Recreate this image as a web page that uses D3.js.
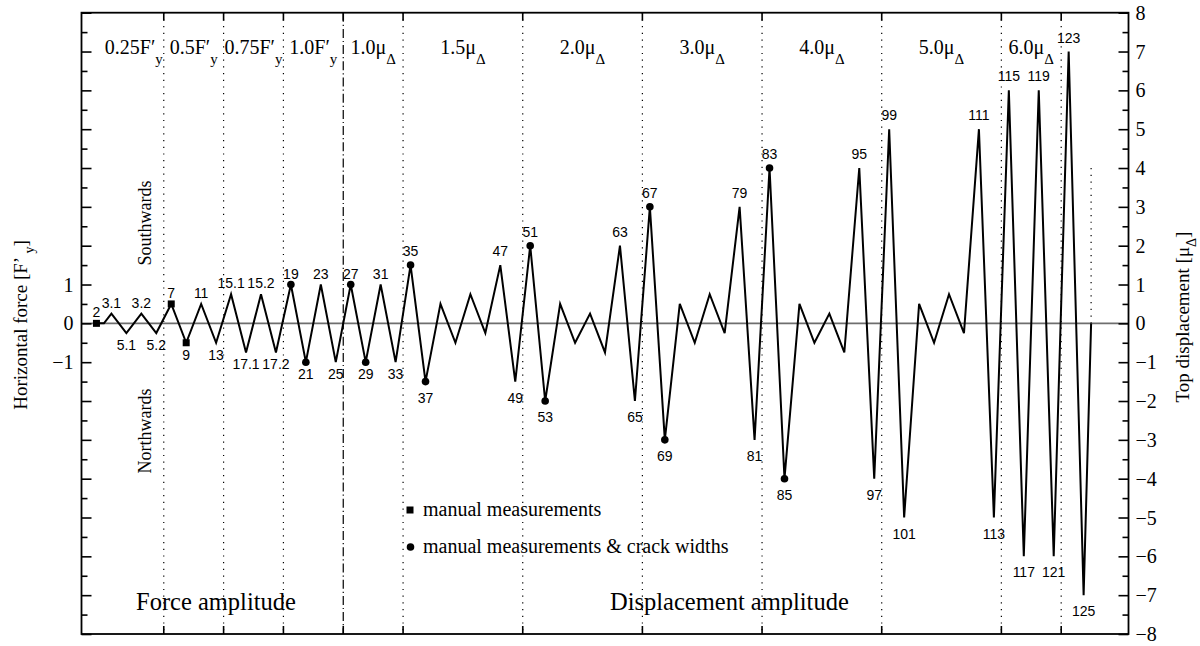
<!DOCTYPE html>
<html>
<head>
<meta charset="utf-8">
<script src="https://cdn.jsdelivr.net/npm/d3@7"></script>
<style>
  html, body { margin: 0; padding: 0; background: #fff; }
  svg { display: block; }
  .serif { font-family: "Liberation Serif", "Times New Roman", serif; fill: #000; }
  .sans { font-family: "Liberation Sans", Arial, sans-serif; fill: #000; }
</style>
</head>
<body>
<svg id="chart" width="1200" height="646"></svg>
<script>
// Loading history: half-cycle step and amplitude of each reversal point
const steps = [
  -0.5, 0,
  0.5, 1.5, 2.5, 3.5,
  4.5, 5.5, 6.5, 7.5,
  8.5, 9.5, 10.5, 11.5,
  12.5, 13.5, 14.5, 15.5,
  16.5, 17.5, 18.5, 19.5,
  20.5, 21.5, 22.5, 23.5, 24.5, 25.5, 26.5, 27.5,
  28.5, 29.5, 30.5, 31.5, 32.5, 33.5, 34.5, 35.5,
  36.5, 37.5, 38.5, 39.5, 40.5, 41.5, 42.5, 43.5,
  44.5, 45.5, 46.5, 47.5, 48.5, 49.5, 50.5, 51.5,
  52.5, 53.5, 54.5, 55.5, 56.5, 57.5, 58.5, 59.5,
  60.5, 61.5, 62.5, 63.5,
  64.5, 65.5, 66
];
const amplitudes = [
  0, 0,
  0.25, -0.25, 0.25, -0.25,
  0.5, -0.5, 0.5, -0.5,
  0.75, -0.75, 0.75, -0.75,
  1, -1, 1, -1,
  1, -1, 1, -1,
  1.5, -1.5, 0.5, -0.5, 0.75, -0.25, 1.5, -1.5,
  2, -2, 0.5, -0.5, 0.25, -0.75, 2, -2,
  3, -3, 0.5, -0.5, 0.75, -0.25, 3, -3,
  4, -4, 0.5, -0.5, 0.25, -0.75, 4, -4,
  5, -5, 0.5, -0.5, 0.75, -0.25, 5, -5,
  6, -6, 6, -6,
  7, -7, 0
];
const pointLabels = [
  "2", "",
  "3.1", "5.1", "3.2", "5.2",
  "7", "9", "11", "13",
  "15.1", "17.1", "15.2", "17.2",
  "19", "21", "23", "25",
  "27", "29", "31", "33",
  "35", "37", "", "", "", "", "47", "49",
  "51", "53", "", "", "", "", "63", "65",
  "67", "69", "", "", "", "", "79", "81",
  "83", "85", "", "", "", "", "95", "97",
  "99", "101", "", "", "", "", "111", "113",
  "115", "117", "119", "121",
  "123", "125", ""
];
// Points recorded by hand, and those where crack widths were also taken
const squareLabels = ["2", "7", "9"];
const dotLabels = ["19", "21", "27", "29", "35", "37", "51", "53", "67", "69", "83", "85"];

// Load stages
const stageStarts = [0, 4, 8, 12, 16, 20, 28, 36, 44, 52, 60];
const stageEnds   = [4, 8, 12, 16, 20, 28, 36, 44, 52, 60, 64];
const stageNames  = ["0.25F′", "0.5F′", "0.75F′", "1.0F′", "1.0μ", "1.5μ", "2.0μ", "3.0μ", "4.0μ", "5.0μ", "6.0μ"];
const stageSubs   = ["y", "y", "y", "y", "Δ", "Δ", "Δ", "Δ", "Δ", "Δ", "Δ"];
const controlSwitch = 16;   // force control -> displacement control
const finalStep = 66;

const yTicks = d3.range(-8, 8.01, 0.5);
const leftTickLabels = [-1, 0, 1];
const rightTickLabels = d3.range(-8, 9, 1);

const svg = d3.select("#chart");
const L = 81.5, R = 1128.5, T = 12.7, B = 634;

const x = d3.scaleLinear().domain([-1.5, 68.5]).range([L, R]);
const y = d3.scaleLinear().domain([-8, 8]).range([B, T]);

const fmt = v => (v < 0 ? "\u2212" + (-v) : String(v));

// zero line
svg.append("line")
  .attr("x1", L).attr("x2", R)
  .attr("y1", y(0)).attr("y2", y(0))
  .attr("stroke", "#6e6e6e").attr("stroke-width", 1.6);

// stage dividers
const dividers = stageStarts.slice(1).concat([64]);
svg.append("g").selectAll("line").data(dividers).join("line")
  .attr("x1", d => x(d)).attr("x2", d => x(d))
  .attr("y1", T).attr("y2", B)
  .attr("stroke", "#000")
  .attr("stroke-width", 1.2)
  .attr("stroke-dasharray", d => d === controlSwitch ? "9,3,1.2,3" : "1.2,5.5");

// short marker at the end of the history
svg.append("line")
  .attr("x1", x(finalStep)).attr("x2", x(finalStep))
  .attr("y1", y(4)).attr("y2", y(0))
  .attr("stroke", "#000").attr("stroke-width", 1.2)
  .attr("stroke-dasharray", "1.2,5.5");

// load history
const pts = steps.map((s, i) => ({ s, v: amplitudes[i], label: pointLabels[i] }));
svg.append("path")
  .datum(pts)
  .attr("fill", "none")
  .attr("stroke", "#000")
  .attr("stroke-width", 2)
  .attr("stroke-linejoin", "miter")
  .attr("d", d3.line().x(d => x(d.s)).y(d => y(d.v)));

// markers
const sq = 7;
svg.append("g").selectAll("rect")
  .data(pts.filter(d => squareLabels.includes(d.label)))
  .join("rect")
  .attr("x", d => x(d.s) - sq / 2).attr("y", d => y(d.v) - sq / 2)
  .attr("width", sq).attr("height", sq).attr("fill", "#000");
svg.append("g").selectAll("circle")
  .data(pts.filter(d => dotLabels.includes(d.label)))
  .join("circle")
  .attr("cx", d => x(d.s)).attr("cy", d => y(d.v)).attr("r", 3.8).attr("fill", "#000");

// point numbers
svg.append("g").selectAll("text")
  .data(pts.filter(d => d.label !== ""))
  .join("text")
  .attr("class", "sans")
  .attr("font-size", 14)
  .attr("text-anchor", "middle")
  .attr("x", d => x(d.s))
  .attr("y", d => {
    const big = Math.abs(d.v) > 1;
    return d.v >= 0 ? y(d.v) - (big ? 9 : 6) : y(d.v) + (big ? 21 : 17);
  })
  .text(d => d.label);

// frame
svg.append("rect")
  .attr("x", L).attr("y", T).attr("width", R - L).attr("height", B - T)
  .attr("fill", "none").attr("stroke", "#000").attr("stroke-width", 1.8);

// x ticks at stage boundaries (top and bottom, inward)
const xTickG = svg.append("g");
xTickG.selectAll("line.b").data(dividers).join("line").attr("class", "b")
  .attr("x1", d => x(d)).attr("x2", d => x(d))
  .attr("y1", B).attr("y2", B - 8)
  .attr("stroke", "#000").attr("stroke-width", 1.6);
xTickG.selectAll("line.t").data(dividers).join("line").attr("class", "t")
  .attr("x1", d => x(d)).attr("x2", d => x(d))
  .attr("y1", T).attr("y2", T + 8)
  .attr("stroke", "#000").attr("stroke-width", 1.6);

// y axes
const leftAxis = d3.axisLeft(y).tickValues(yTicks).tickSizeInner(0).tickSizeOuter(0).tickFormat("");
const rightAxis = d3.axisRight(y).tickValues(yTicks).tickSizeInner(0).tickSizeOuter(0).tickFormat("");
const gl = svg.append("g").attr("transform", `translate(${L},0)`).call(leftAxis);
const gr = svg.append("g").attr("transform", `translate(${R},0)`).call(rightAxis);
[gl, gr].forEach(g => g.select(".domain").remove());
gl.selectAll(".tick line")
  .attr("x2", d => Number.isInteger(d) ? 10 : 6)
  .attr("stroke", "#000").attr("stroke-width", 1.6);
gr.selectAll(".tick line")
  .attr("x2", d => Number.isInteger(d) ? -10 : -6)
  .attr("stroke", "#000").attr("stroke-width", 1.6);

svg.append("g").selectAll("text").data(leftTickLabels).join("text")
  .attr("class", "serif").attr("font-size", 20)
  .attr("text-anchor", "end")
  .attr("x", L - 8).attr("y", d => y(d)).attr("dy", "0.35em")
  .text(fmt);
svg.append("g").selectAll("text").data(rightTickLabels).join("text")
  .attr("class", "serif").attr("font-size", 20)
  .attr("text-anchor", "start")
  .attr("x", R + 7).attr("y", d => y(d)).attr("dy", "0.35em")
  .text(fmt);

// stage names
const stageText = svg.append("g").selectAll("text")
  .data(stageNames.map((n, i) => ({ n, sub: stageSubs[i], mid: (stageStarts[i] + stageEnds[i]) / 2 })))
  .join("text")
  .attr("class", "serif").attr("font-size", 20)
  .attr("text-anchor", "middle")
  .attr("x", d => x(d.mid)).attr("y", 54);
stageText.append("tspan").text(d => d.n);
stageText.append("tspan").attr("font-size", 15).attr("dy", 10).text(d => d.sub);

// direction notes
svg.append("text").attr("class", "serif").attr("font-size", 18)
  .attr("text-anchor", "middle")
  .attr("transform", `translate(151,223) rotate(-90)`)
  .text("Southwards");
svg.append("text").attr("class", "serif").attr("font-size", 18)
  .attr("text-anchor", "middle")
  .attr("transform", `translate(151,431) rotate(-90)`)
  .text("Northwards");

// axis titles
const lt = svg.append("text").attr("class", "serif").attr("font-size", 19)
  .attr("text-anchor", "middle")
  .attr("transform", `translate(27,325) rotate(-90)`);
lt.append("tspan").text("Horizontal force [F’ ");
lt.append("tspan").attr("font-size", 14).attr("dy", 7).text("y");
lt.append("tspan").attr("dy", -7).text("]");

const rt = svg.append("text").attr("class", "serif").attr("font-size", 19)
  .attr("text-anchor", "middle")
  .attr("transform", `translate(1189,317) rotate(-90)`);
rt.append("tspan").text("Top displacement  [μ");
rt.append("tspan").attr("font-size", 14).attr("dy", 7).text("Δ");
rt.append("tspan").attr("dy", -7).text("]");

// legend
svg.append("rect").attr("x", 410 - 3.5).attr("y", 510 - 3.5).attr("width", 7).attr("height", 7).attr("fill", "#000");
svg.append("text").attr("class", "serif").attr("font-size", 20)
  .attr("x", 423).attr("y", 516).text("manual measurements");
svg.append("circle").attr("cx", 410.5).attr("cy", 547).attr("r", 3.8).attr("fill", "#000");
svg.append("text").attr("class", "serif").attr("font-size", 20)
  .attr("x", 423).attr("y", 553).text("manual measurements & crack widths");

// control-mode captions
svg.append("text").attr("class", "serif").attr("font-size", 24.5)
  .attr("x", 136).attr("y", 610).text("Force amplitude");
svg.append("text").attr("class", "serif").attr("font-size", 24.5)
  .attr("x", 610).attr("y", 610).text("Displacement amplitude");
</script>
</body>
</html>
